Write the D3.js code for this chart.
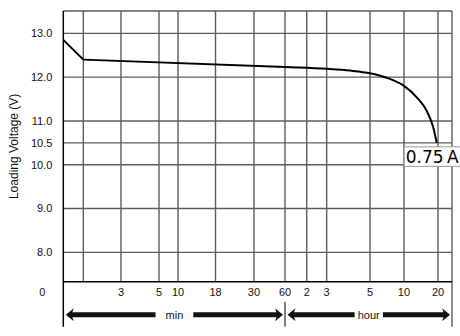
<!DOCTYPE html>
<html>
<head>
<meta charset="utf-8">
<script src="https://cdn.jsdelivr.net/npm/d3@7"></script>
<style>
  html, body { margin: 0; padding: 0; background: #fff; }
  svg { display: block; font-family: "Liberation Sans", Arial, sans-serif; }
</style>
</head>
<body>
<svg id="chart" width="460" height="336"></svg>
<script>
// time on the x axis is kept in minutes
const gridMinutes = [0, 1, 3, 5, 10, 18, 30, 60, 120, 180, 300, 600, 1200];
const tickMinutes = [3, 5, 10, 18, 30, 60, 120, 180, 300, 600, 1200];
const tickLabels = ["3", "5", "10", "18", "30", "60", "2", "3", "5", "10", "20"];
const voltTicks = [13, 12, 11, 10.5, 10, 9, 8];

const dropTime = [0, 1];
const dropVolt = [12.85, 12.4];
const curveTime = [1, 60, 180, 245, 300, 476, 600, 824, 1000, 1117, 1177];
const curveVolt = [12.4, 12.23, 12.19, 12.15, 12.09, 11.96, 11.8, 11.54, 11.23, 10.85, 10.5];

const seriesLabel = "0.75\u2009A";
const units = [
  { name: "min", from: 0, to: 60, pad: 10 },
  { name: "hour", from: 60, to: 1440, pad: 3 }
];

const svg = d3.select("#chart");
const margin = { top: 11, right: 8, bottom: 54.3, left: 63.3 };
const width = +svg.attr("width") - margin.left - margin.right;
const height = +svg.attr("height") - margin.top - margin.bottom;
const x0Px = margin.left, x1Px = margin.left + width;
const y0Px = margin.top, y1Px = margin.top + height;

// the time axis is hand spaced, so map minutes through a piecewise scale
const xFrac = [0, .0515, .1484, .2462, .2951, .3916, .4906, .5704, .6262, .6776, .789, .8765, .964, 1];
const x = d3.scaleLinear()
  .domain([...gridMinutes, 1440])
  .range(xFrac.map((f) => x0Px + f * width));

const y = d3.scaleLinear().domain([7.33, 13.51]).range([y1Px, y0Px]);

const gridColor = "#5c5c5c";

// grid
svg.append("g")
  .selectAll("line")
  .data(voltTicks)
  .join("line")
  .attr("x1", x0Px).attr("x2", x1Px)
  .attr("y1", (d) => y(d)).attr("y2", (d) => y(d))
  .attr("stroke", gridColor).attr("stroke-width", 1.4);

svg.append("g")
  .selectAll("line")
  .data(gridMinutes.slice(1))
  .join("line")
  .attr("x1", (d) => x(d)).attr("x2", (d) => x(d))
  .attr("y1", y0Px).attr("y2", y1Px)
  .attr("stroke", gridColor).attr("stroke-width", 1.4);

// frame
svg.append("line")
  .attr("x1", x0Px).attr("x2", x1Px).attr("y1", y0Px).attr("y2", y0Px)
  .attr("stroke", gridColor).attr("stroke-width", 1.4);
svg.append("line")
  .attr("x1", x1Px).attr("x2", x1Px).attr("y1", y0Px).attr("y2", y1Px + 45)
  .attr("stroke", gridColor).attr("stroke-width", 1.4);
svg.append("line")
  .attr("x1", x0Px).attr("x2", x1Px).attr("y1", y1Px).attr("y2", y1Px)
  .attr("stroke", "#000").attr("stroke-width", 1.5);
svg.append("line")
  .attr("x1", x0Px).attr("x2", x0Px).attr("y1", y0Px).attr("y2", y1Px + 45)
  .attr("stroke", "#000").attr("stroke-width", 1.5);
svg.append("line")
  .attr("x1", x(60)).attr("x2", x(60)).attr("y1", y1Px + 20).attr("y2", y1Px + 45)
  .attr("stroke", "#000").attr("stroke-width", 1);

// y tick labels
svg.append("g")
  .selectAll("text")
  .data(voltTicks)
  .join("text")
  .attr("x", x0Px - 11)
  .attr("y", (d) => y(d))
  .attr("dy", "0.35em")
  .attr("text-anchor", "end")
  .attr("font-size", 11)
  .attr("fill", "#111")
  .text((d) => d.toFixed(1));

// x tick labels
svg.append("g")
  .selectAll("text")
  .data(tickMinutes)
  .join("text")
  .attr("x", (d) => x(d))
  .attr("y", y1Px + 10)
  .attr("dy", "0.35em")
  .attr("text-anchor", "middle")
  .attr("font-size", 11)
  .attr("fill", "#111")
  .text((d, i) => tickLabels[i]);

svg.append("text")
  .attr("x", x0Px - 21)
  .attr("y", y1Px + 10)
  .attr("dy", "0.35em")
  .attr("text-anchor", "middle")
  .attr("font-size", 11)
  .attr("fill", "#111")
  .text("0");

svg.append("text")
  .attr("transform", `translate(14,${(y0Px + y1Px) / 2}) rotate(-90)`)
  .attr("dy", "0.35em")
  .attr("text-anchor", "middle")
  .attr("font-size", 12)
  .attr("fill", "#111")
  .text("Loading Voltage (V)");

// unit arrows
const arrowY = y1Px + 33;
const head = 8, headH = 6.5, bar = 2.5;
units.forEach((u) => {
  const a = Math.max(x(u.from), x0Px) + 2.5;
  const b = x(u.to) - 2;
  const mid = (a + b) / 2;
  const label = svg.append("text")
    .attr("x", mid)
    .attr("y", arrowY)
    .attr("dy", "0.35em")
    .attr("text-anchor", "middle")
    .attr("font-size", 11)
    .attr("fill", "#111")
    .text(u.name);
  const half = label.node().getBBox().width / 2 + u.pad;
  svg.append("path")
    .attr("d", `M${a},${arrowY} L${a + head},${arrowY - headH} L${a + head - 1.5},${arrowY - bar}
      L${mid - half},${arrowY - bar} L${mid - half},${arrowY + bar} L${a + head - 1.5},${arrowY + bar}
      L${a + head},${arrowY + headH} Z`)
    .attr("fill", "#111");
  svg.append("path")
    .attr("d", `M${b},${arrowY} L${b - head},${arrowY - headH} L${b - head + 1.5},${arrowY - bar}
      L${mid + half},${arrowY - bar} L${mid + half},${arrowY + bar} L${b - head + 1.5},${arrowY + bar}
      L${b - head},${arrowY + headH} Z`)
    .attr("fill", "#111");
});

// discharge curve
svg.append("path")
  .attr("d", d3.line().x((d) => x(d)).y((d, i) => y(dropVolt[i]))(dropTime))
  .attr("fill", "none").attr("stroke", "#000").attr("stroke-width", 2);

svg.append("path")
  .attr("d", d3.line().curve(d3.curveMonotoneX).x((d) => x(d)).y((d, i) => y(curveVolt[i]))(curveTime))
  .attr("fill", "none").attr("stroke", "#000").attr("stroke-width", 2);

// end label
const endX = x(curveTime[curveTime.length - 1]);
const endY = y(curveVolt[curveVolt.length - 1]);
const tag = svg.append("g");
const tagText = tag.append("text")
  .attr("x", endX - 31)
  .attr("y", endY + 20)
  .attr("font-family", "DejaVu Sans, sans-serif")
  .attr("font-size", 17)
  .attr("fill", "#000")
  .text(seriesLabel);
const bb = tagText.node().getBBox();
tag.insert("rect", "text")
  .attr("x", bb.x - 1.5)
  .attr("y", endY + 4)
  .attr("width", bb.width + 3)
  .attr("height", 19.5)
  .attr("fill", "#fff")
  .attr("stroke", "#999")
  .attr("stroke-width", 1);
</script>
</body>
</html>
